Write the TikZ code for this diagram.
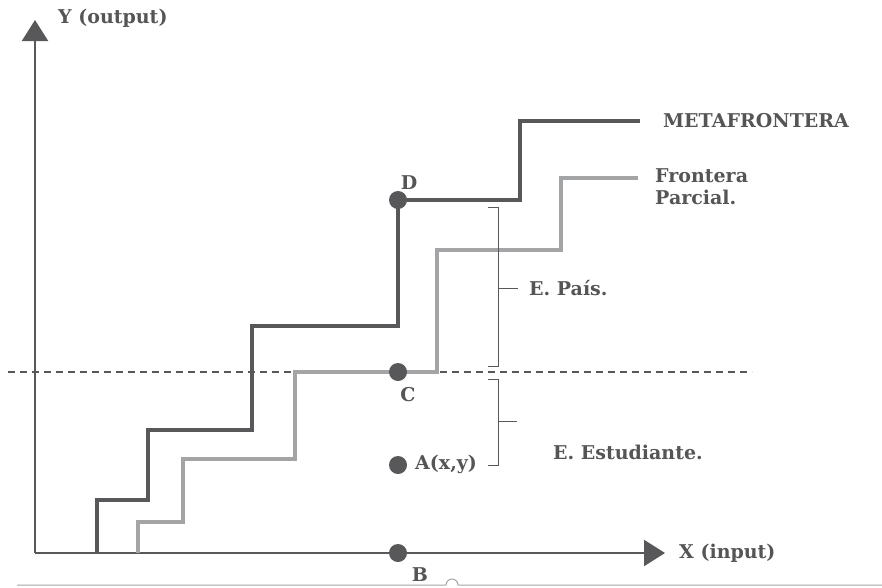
\documentclass[tikz,border=0pt]{standalone}
\usepackage{fontspec}
\setmainfont{DejaVu Serif}
\usetikzlibrary{arrows.meta}
\definecolor{dk}{HTML}{58585A}
\definecolor{lt}{HTML}{A2A4A5}
\definecolor{txt}{HTML}{555555}
\tikzset{
  meta/.style={draw=dk, line width=4pt},
  parc/.style={draw=lt, line width=4pt},
  axis/.style={draw=dk, line width=2.2pt, -{Triangle[length=21pt,width=26pt]}},
  dot/.style={circle, fill=dk, minimum size=18pt, inner sep=0pt},
  lbl/.style={text=txt, font=\bfseries\fontsize{19}{23}\selectfont, inner sep=0pt},
  brace/.style={draw=dk, line width=1pt},
}
\begin{document}
\begin{tikzpicture}[x=1pt,y=-1pt]
\useasboundingbox (0,0) rectangle (882,587);
% axes
\coordinate (O) at (35,553);
\coordinate (Ytip) at (35,20);
\coordinate (Xtip) at (665,553);
\draw[axis] (O) -- (Ytip);
\draw[axis] (O) -- (Xtip);
% dashed line
\coordinate (dl) at (8,372);
\coordinate (dr) at (752,372);
\draw[dk, line width=2.4pt, dash pattern=on 7pt off 5pt] (dl) -- (dr);
% metafrontera
\coordinate (m0) at (97,553);
\coordinate (mE) at (640,121);
\draw[meta, line join=miter] (m0) |- (148,500) |- (252,430) |- (398,326) |- (398,200) -- (520,200) |- (mE);
% frontera parcial
\coordinate (p0) at (138,553);
\coordinate (pE) at (638,178);
\draw[parc, line join=miter] (p0) |- (183,522) |- (295,459) |- (437,372) |- (561,250) |- (pE);
% dots
\node[dot] (D) at (398,200) {};
\node[dot] (C) at (398,372) {};
\node[dot] (A) at (398,465) {};
\node[dot] (B) at (398,553) {};
% brackets
\draw[brace] (488,207) -- (498,207) -- (498,366) -- (488,366);
\draw[brace] (498,288) -- (518,288);
\draw[brace] (488,379) -- (498,379) -- (498,465) -- (488,465);
\draw[brace] (498,421) -- (517,421);
% labels
\node[lbl, anchor=west] (ylab) at (58,18) {Y (output)};
\node[lbl, anchor=west] (xlab) at (679,553) {X (input)};
\node[lbl, anchor=west] (mlab) at (663,121) {METAFRONTERA};
\node[lbl, anchor=west, align=left] (plab) at (655,187) {Frontera\\[-1pt]Parcial.};
\node[lbl] (Dl) at (409,183) {D};
\node[lbl] (Cl) at (408,395) {C};
\node[lbl, anchor=west] (Al) at (415,464) {A(x,y)};
\node[lbl] (Bl) at (420,575) {B};
\node[lbl, anchor=west] (ep) at (529,288) {E. País.};
\node[lbl, anchor=west] (ee) at (553,452) {E. Estudiante.};
% bottom rule with bump
\draw[lt, line width=1pt] (17,585) -- (446,585) arc[start angle=180, end angle=360, radius=6] -- (882,585);
\end{tikzpicture}
\end{document}
